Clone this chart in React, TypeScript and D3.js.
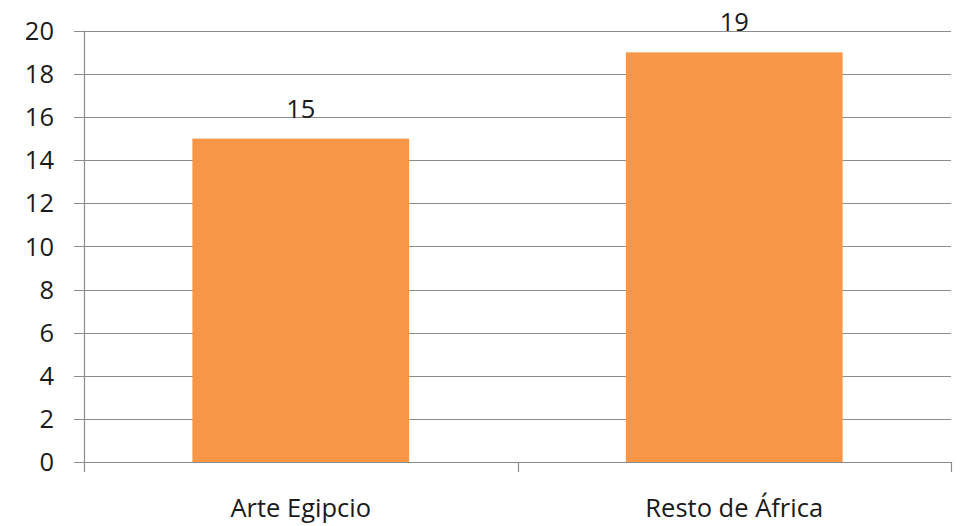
import * as d3 from "d3";
import { useEffect, useRef } from "react";

const categories = ["Arte Egipcio", "Resto de África"];
const values = [15, 19];
const yTicks = [0, 2, 4, 6, 8, 10, 12, 14, 16, 18, 20];

export default function App() {
  const svgRef = useRef<SVGSVGElement>(null);
  const width = 963;
  const height = 526;

  useEffect(() => {
    if (!svgRef.current) return;
    const svg = d3.select(svgRef.current);
    svg.selectAll("*").remove();

    const margin = { top: 30.8, right: 12, bottom: 64, left: 84 };
    const font = "'Open Sans', sans-serif";
    const fontSize = "25.5px";
    const gridColor = "#8c8c8c";

    const xScale = d3
      .scaleBand()
      .domain(categories)
      .range([margin.left, width - margin.right])
      .padding(0);

    const yScale = d3
      .scaleLinear()
      .domain([0, 20])
      .range([height - margin.bottom, margin.top]);

    const x0 = margin.left;
    const x1 = width - margin.right;
    const y0 = yScale(0);

    // Gridlines (with the tick stub on the left)
    svg
      .append("g")
      .selectAll("line")
      .data(yTicks)
      .enter()
      .append("line")
      .attr("x1", x0 - 10)
      .attr("x2", x1)
      .attr("y1", (d) => Math.round(yScale(d)) + 0.5)
      .attr("y2", (d) => Math.round(yScale(d)) + 0.5)
      .attr("stroke", gridColor)
      .attr("stroke-width", 1.2);

    // Y axis line
    svg
      .append("line")
      .attr("x1", x0 + 0.5)
      .attr("x2", x0 + 0.5)
      .attr("y1", yScale(20))
      .attr("y2", y0 + 10)
      .attr("stroke", gridColor)
      .attr("stroke-width", 1.2);

    // Category separator ticks
    const sepX = [...categories.map((c) => xScale(c)!), x1];
    svg
      .append("g")
      .selectAll("line")
      .data(sepX.slice(1))
      .enter()
      .append("line")
      .attr("x1", (d) => Math.round(d) + 0.5)
      .attr("x2", (d) => Math.round(d) + 0.5)
      .attr("y1", y0)
      .attr("y2", y0 + 10)
      .attr("stroke", gridColor)
      .attr("stroke-width", 1.2);

    // Y tick labels
    svg
      .append("g")
      .selectAll("text")
      .data(yTicks)
      .enter()
      .append("text")
      .attr("x", 54)
      .attr("y", (d) => yScale(d))
      .attr("dy", "0.36em")
      .attr("text-anchor", "end")
      .style("font-family", font)
      .style("font-size", fontSize)
      .style("fill", "#1a1a1a")
      .text((d) => d);

    const barW = xScale.bandwidth() * 0.5;

    // Bars
    svg
      .append("g")
      .selectAll("rect")
      .data(values)
      .enter()
      .append("rect")
      .attr("x", (d, i) => xScale(categories[i])! + (xScale.bandwidth() - barW) / 2)
      .attr("width", barW)
      .attr("y", (d) => yScale(d))
      .attr("height", (d) => y0 - yScale(d))
      .attr("fill", "#F79646");

    // Value labels
    svg
      .append("g")
      .selectAll("text")
      .data(values)
      .enter()
      .append("text")
      .attr("x", (d, i) => xScale(categories[i])! + xScale.bandwidth() / 2)
      .attr("y", (d) => yScale(d) - 21)
      .attr("text-anchor", "middle")
      .style("font-family", font)
      .style("font-size", fontSize)
      .style("fill", "#1a1a1a")
      .text((d) => d);

    // Category labels
    svg
      .append("g")
      .selectAll("text")
      .data(categories)
      .enter()
      .append("text")
      .attr("x", (d) => xScale(d)! + xScale.bandwidth() / 2)
      .attr("y", 517)
      .attr("text-anchor", "middle")
      .style("font-family", font)
      .style("font-size", fontSize)
      .style("fill", "#1a1a1a")
      .text((d) => d);
  }, []);

  return (
    <div style={{ position: "fixed", left: 0, top: 0, width, height, background: "#fff" }}>
      <svg ref={svgRef} width={width} height={height} style={{ display: "block" }} />
    </div>
  );
}
